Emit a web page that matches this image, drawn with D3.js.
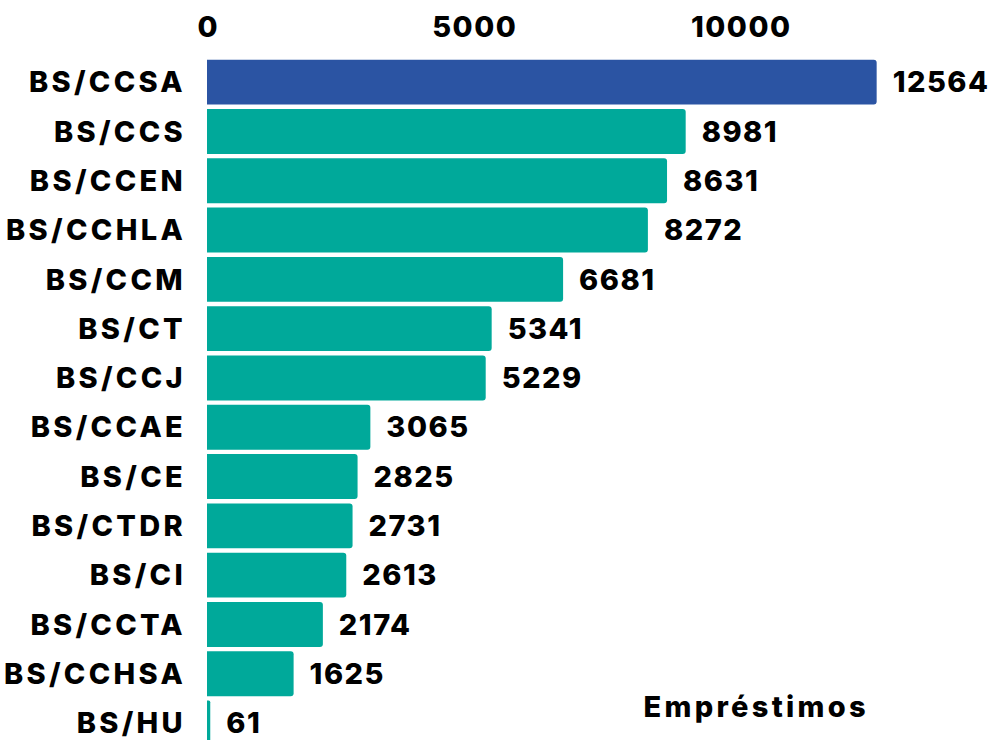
<!DOCTYPE html>
<html><head><meta charset="utf-8">
<script src="https://cdn.jsdelivr.net/npm/d3@7"></script>
<style>
html,body{margin:0;padding:0;background:#fff;overflow:hidden}
text{font-family:Inter,"DejaVu Sans",sans-serif;font-weight:800;fill:#000;letter-spacing:3.3px}
text.num{letter-spacing:1.5px}
</style></head>
<body><svg id="c" width="990" height="740"></svg>
<script>
const categories = ["BS/CCSA","BS/CCS","BS/CCEN","BS/CCHLA","BS/CCM","BS/CT","BS/CCJ","BS/CCAE","BS/CE","BS/CTDR","BS/CI","BS/CCTA","BS/CCHSA","BS/HU"];
const values = [12564,8981,8631,8272,6681,5341,5229,3065,2825,2731,2613,2174,1625,61];
const tickValues = [0,5000,10000];
const highlight = "BS/CCSA";
const axisTitle = "Empréstimos";

const svg = d3.select("#c");
const x = d3.scaleLinear().domain([0,10000]).range([207,740]);
const y = d3.scaleBand().domain(categories).range([57.5, 57.5+49.3*categories.length]).paddingInner(0.09).paddingOuter(0.045);

const fs = 29;
// top axis
const ax = svg.append("g").attr("transform","translate(0.75,37)")
  .call(d3.axisTop(x).tickValues(tickValues).tickSize(0).tickPadding(0).tickFormat(d3.format("d")));
ax.select(".domain").remove();
ax.selectAll("text").attr("class","num").attr("font-size",fs).style("font-family","Inter").style("font-weight",800).attr("fill","#000");

// y labels
const ay = svg.append("g").attr("transform","translate(186,0)")
  .call(d3.axisLeft(y).tickSize(0).tickPadding(0));
ay.select(".domain").remove();
ay.selectAll("text").attr("font-size",fs).style("font-family","Inter").style("font-weight",800).attr("fill","#000").attr("dy","0.35em");

function barPath(x0,x1,y0,h,r){
  r=Math.min(r,(x1-x0)/2);
  return `M${x0},${y0}H${x1-r}Q${x1},${y0} ${x1},${y0+r}V${y0+h-r}Q${x1},${y0+h} ${x1-r},${y0+h}H${x0}Z`;
}
const data = categories.map((c,i)=>({c,v:values[i]}));
svg.append("g").selectAll("path").data(data).join("path")
  .attr("d",d=>barPath(x(0),x(d.v),y(d.c),y.bandwidth(),3))
  .attr("fill",d=>d.c===highlight?"#2b54a3":"#00a99a");

svg.append("g").selectAll("text").data(data).join("text")
  .attr("class","num")
  .attr("x",d=>x(d.v)+16).attr("y",d=>y(d.c)+y.bandwidth()/2).attr("dy","0.35em")
  .attr("font-size",fs).text(d=>d.v);

svg.append("text").attr("x",869).attr("y",717).attr("text-anchor","end").attr("font-size",fs).text(axisTitle);
</script></body></html>
